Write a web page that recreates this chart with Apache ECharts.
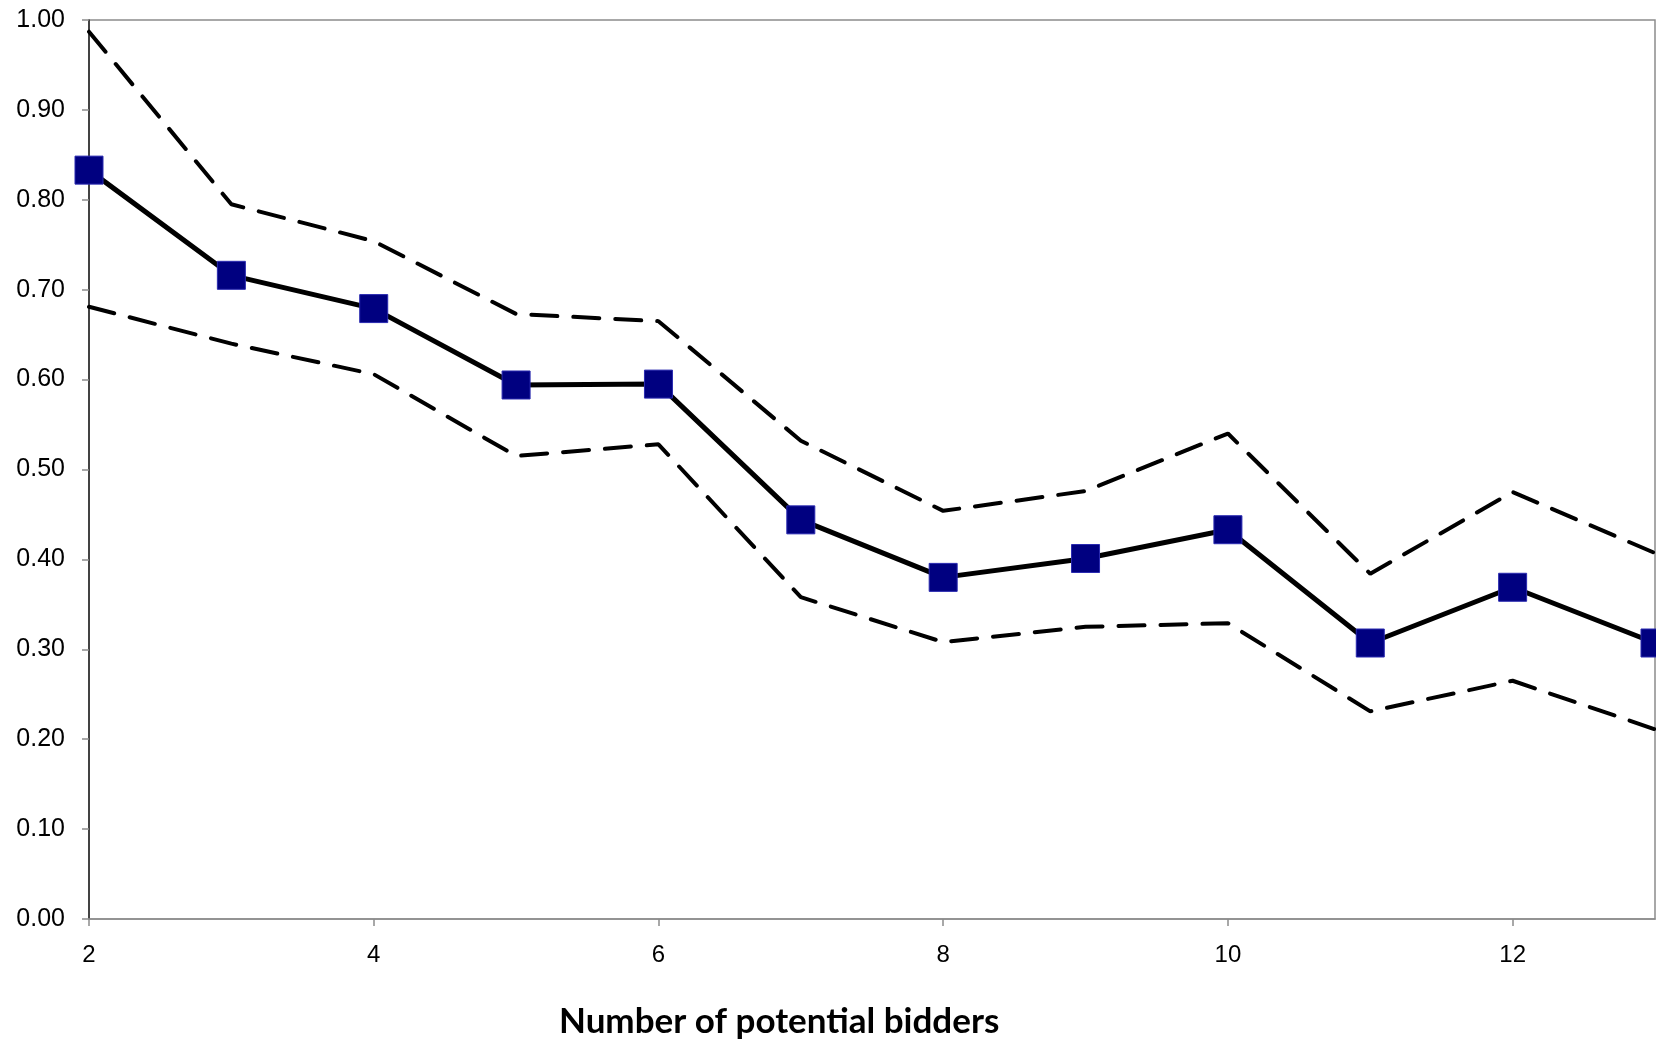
<!DOCTYPE html>
<html><head><meta charset="utf-8">
<script src="https://cdn.jsdelivr.net/npm/echarts@6/dist/echarts.min.js"></script>
<style>html,body{margin:0;padding:0;background:#fff}#c{width:1656px;height:1046px}</style>
</head><body><div id="c"></div>
<script>
const bidders = [2,3,4,5,6,7,8,9,10,11,12,13];
const estimate = [0.833,0.716,0.679,0.594,0.595,0.444,0.380,0.401,0.433,0.307,0.369,0.307];
const upperBound = [0.987,0.795,0.754,0.673,0.665,0.532,0.454,0.476,0.540,0.384,0.475,0.407];
const lowerBound = [0.681,0.640,0.606,0.515,0.528,0.358,0.308,0.325,0.329,0.231,0.265,0.211];
const xTitle = 'Number of potential bidders';

const pairs = arr => bidders.map((b,i)=>[b,arr[i]]);
const chart = echarts.init(document.getElementById('c'));
const dashStyle = {color:'#000',width:4,type:[26,16],cap:'round'};
chart.setOption({
  animation:false,
  backgroundColor:'#fff',
  title:{text:xTitle,left:554,top:999,textStyle:{fontFamily:'Lato',fontWeight:'bold',fontSize:35,color:'#000'}},
  grid:{left:89,top:20,right:1,bottom:127,show:true,borderColor:'#8c8c8c',borderWidth:1.5,backgroundColor:'transparent'},
  xAxis:{type:'value',min:2,max:13,interval:2,
    axisLine:{show:true,lineStyle:{color:'#8c8c8c',width:1.5}},
    axisTick:{show:true,inside:false,length:7,lineStyle:{color:'#8c8c8c',width:1.5}},
    axisLabel:{margin:24,fontFamily:'Liberation Sans',fontSize:24,color:'#000',showMaxLabel:false},
    splitLine:{show:false}},
  yAxis:{type:'value',min:0,max:1,interval:0.1,
    axisLine:{show:true,lineStyle:{color:'#222',width:1.5}},
    axisTick:{show:true,inside:false,length:7,lineStyle:{color:'#8c8c8c',width:1.5}},
    axisLabel:{margin:24,fontFamily:'Liberation Sans',fontSize:25,color:'#000',formatter:v=>v.toFixed(2)},
    splitLine:{show:false}},
  series:[
    {type:'line',data:pairs(upperBound),symbol:'none',lineStyle:dashStyle,clip:false,z:2},
    {type:'line',data:pairs(lowerBound),symbol:'none',lineStyle:dashStyle,clip:false,z:2},
    {type:'line',data:pairs(estimate),symbol:'rect',symbolSize:28,clip:false,z:3,
      lineStyle:{color:'#000',width:5},
      itemStyle:{color:'#000080',borderColor:'#2a2ab0',borderWidth:1}}
  ]
});
</script></body></html>
